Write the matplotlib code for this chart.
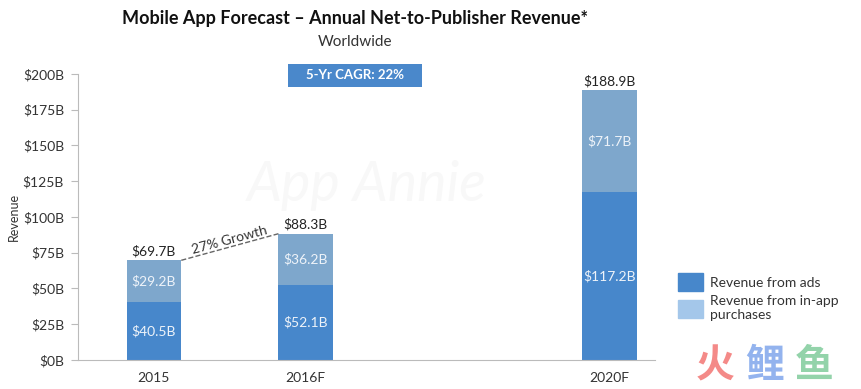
import numpy as np
import matplotlib.pyplot as plt
from matplotlib.patches import Patch, Rectangle

years = ['2015', '2016F', '2020F']
pos = [0, 1, 3]  # 2017-2019 left as a gap
ads = [40.5, 52.1, 117.2]
inapp = [29.2, 36.2, 71.7]
totals = [69.7, 88.3, 188.9]
yticks = [0, 25, 50, 75, 100, 125, 150, 175, 200]

c_ads = '#4787cb'
c_iap = '#7ea7cc'
c_iap_leg = '#a4c7ea'

plt.rcParams['font.family'] = ['Lato', 'DejaVu Sans']

fig = plt.figure(figsize=(8.61, 3.89), dpi=100)
ax = fig.add_axes([0.0906, 0.0746, 0.6701, 0.7352])

w = 0.36
ax.bar(pos, ads, width=w, color=c_ads)
ax.bar(pos, inapp, width=w, bottom=ads, color=c_iap)

for p, a, i, t in zip(pos, ads, inapp, totals):
    ax.text(p, a / 2, f'${a}B', ha='center', va='center', color='#eef3f9', fontsize=10)
    ax.text(p, a + i / 2, f'${i}B', ha='center', va='center', color='#eef3f9', fontsize=10)
    ax.text(p, t + 2, f'${t}B', ha='center', va='bottom', color='#222222', fontsize=10)

# growth line between 2015 and 2016F
ax.plot([pos[0] + w / 2, pos[1] - w / 2], [totals[0], totals[1]], ls='--', color='#666666', lw=1)
ax.text((pos[0] + pos[1]) / 2, (totals[0] + totals[1]) / 2 + 4.5, '27% Growth', rotation=15,
        ha='center', va='center', fontsize=10, color='#333333')

ax.set_xlim(-0.5, 3.3)
ax.set_ylim(0, 200)
ax.set_yticks(yticks)
ax.set_yticklabels([f'${v}B' for v in yticks])
ax.set_xticks(pos)
ax.set_xticklabels(years)
ax.tick_params(axis='x', length=0, pad=9, labelsize=10, labelcolor='#333333')
ax.tick_params(axis='y', length=5, width=0.8, color='#bbbbbb', pad=5, labelsize=10, labelcolor='#333333')
for s in ['top', 'right']:
    ax.spines[s].set_visible(False)
ax.spines['left'].set_color('#bbbbbb')
ax.spines['bottom'].set_color('#bbbbbb')
ax.set_ylabel('Revenue', fontsize=9, color='#333333', labelpad=2)

# faint watermark
ax.text(1.4, 122, 'App Annie', fontsize=40, style='italic', color='#f8f8f8', ha='center', va='center', zorder=0)

fig.text(0.412, 0.953, 'Mobile App Forecast \u2013 Annual Net-to-Publisher Revenue*',
         ha='center', va='center', fontsize=13, fontweight='bold', color='#111111')
fig.text(0.412, 0.892, 'Worldwide', ha='center', va='center', fontsize=11, color='#333333')

# CAGR box
fig.add_artist(Rectangle((0.3345, 0.7763), 0.1556, 0.0591, transform=fig.transFigure,
                         fc='#4a88cb', ec='none'))
fig.text(0.4123, 0.806, '5-Yr CAGR: 22%', ha='center', va='center', fontsize=9.5,
         fontweight='bold', color='white')

handles = [Patch(color=c_ads), Patch(color=c_iap_leg)]
fig.legend(handles, ['Revenue from ads', 'Revenue from in-app\npurchases'],
           loc='upper left', bbox_to_anchor=(0.773, 0.33), frameon=False, fontsize=10,
           handlelength=1.8, handleheight=1.6, handletextpad=0.5, labelspacing=0.3,
           labelcolor='#333333')

# corner logo
for ch, col, x in zip(['火', '鲤', '鱼'], ['#f48a88', '#93b3ee', '#93d3aa'], [0.830, 0.888, 0.946]):
    fig.text(x, 0.06, ch, color=col, fontsize=28, fontweight='bold', ha='center', va='center',
             family=['Noto Sans CJK SC'])

fig.savefig('out.png', dpi=100)
